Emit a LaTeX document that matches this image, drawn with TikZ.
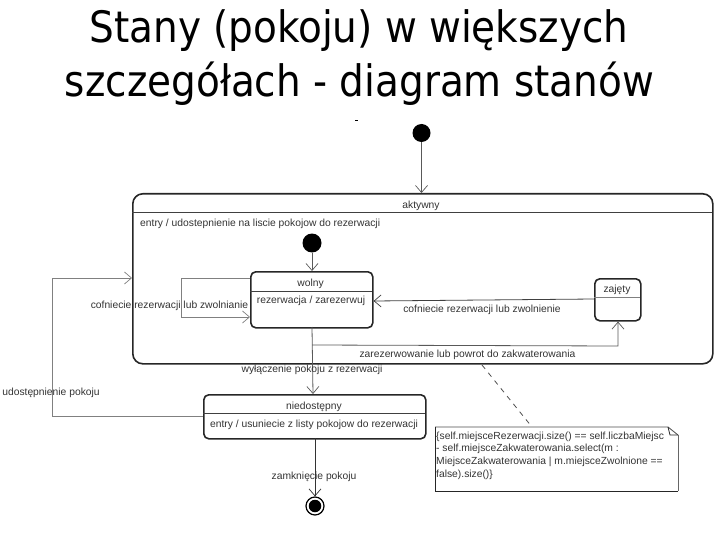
\documentclass[tikz,border=0pt]{standalone}
\usepackage{fontspec}
\setmainfont{Liberation Sans}
\newfontfamily\titlefont{DejaVu Sans Condensed}
\usetikzlibrary{arrows.meta,shapes.misc,calc}
\tikzset{
  statebox/.style={draw=black!85,line width=1.6pt,rounded corners=#1,inner sep=0pt,anchor=north west},
  statebox/.default=5pt,
  divider/.style={draw=black!75,line width=0.8pt},
  lab/.style={font=\fontsize{10.3}{12}\selectfont,text=black!80,inner sep=0pt,yshift=-1.5pt},
  conn/.style={draw=black!65,line width=0.8pt,-{Straight Barb[length=7pt,width=12pt,line width=0.7pt]}},
  pale/.style={conn,draw=black!50},
  dot/.style={circle,fill=black,inner sep=0pt,minimum size=#1},
  titletext/.style={font=\titlefont\fontsize{43.3}{43.3}\selectfont,text=black,inner sep=0pt,anchor=base}
}
\begin{document}
\begin{tikzpicture}[x=1pt,y=-1pt]
\useasboundingbox (0,0) rectangle (720,540);
\node[titletext] (t1) at (359,42.5) {Stany (pokoju) w większych};
\node[titletext] (t2) at (359.5,97) {szczegółach - diagram stanów};
\fill[black] (355,120) rectangle (358,121);

% states
\node[dot=18pt] (init) at (421.5,133) {};
\node[statebox=10pt,minimum width=580pt,minimum height=170pt] (akt) at (132,193) {};
\draw[divider] (132,212) -- (712,212);
\node[lab] (aktl) at (421,204) {aktywny};
\node[lab,anchor=west] (aktentry) at (140,222) {entry / udostepnienie na liscie pokojow do rezerwacji};
\node[dot=19pt] (init2) at (312,243) {};
\node[statebox=5pt,minimum width=122pt,minimum height=56pt] (wol) at (250,271) {};
\draw[divider] (250,291) -- (372,291);
\node[lab] (woll) at (310.5,282) {wolny};
\node[lab] (wola) at (311,299.5) {rezerwacja / zarezerwuj};
\node[statebox=5pt,minimum width=46pt,minimum height=42pt] (zaj) at (594,278) {};
\draw[divider,draw=black!50] (594,297) -- (640,297);
\node[lab] (zajl) at (617,288.5) {zajęty};
\node[statebox=5pt,minimum width=222pt,minimum height=44pt] (nie) at (203,394) {};
\draw[divider] (203,413.5) -- (425,413.5);
\node[lab] (niel) at (314,405.5) {niedostępny};
\node[lab] (niee) at (314,423) {entry / usuniecie z listy pokojow do rezerwacji};
\node[circle,draw=black,line width=1.2pt,fill=white,minimum size=18pt,inner sep=0pt] (fin) at (315,506) {};
\node[dot=12.5pt] (fin2) at (fin) {};

% note
\coordinate (n1) at (435,427);
\coordinate (n2) at (668,427);
\coordinate (n3) at (678,435);
\coordinate (n4) at (678,491);
\coordinate (n5) at (435,491);
\draw[black!70,line width=0.8pt] (n1) -- (n2) -- (n3);
\draw[black!60,line width=0.8pt] (n3) -- (n4);
\draw[black!85,line width=0.8pt] (n4) -- (n5) -- (n1);
\draw[black!85,line width=0.8pt] (n2) -- (670,435) -- (n3);
\node[lab,anchor=north west,align=left,font=\fontsize{10.3}{12.7}\selectfont] (note) at (436,430) {\{self.miejsceRezerwacji.size() == self.liczbaMiejsc\\- self.miejsceZakwaterowania.select(m :\\MiejsceZakwaterowania | m.miejsceZwolnione ==\\false).size()\}};

% connectors
\draw[conn] (init) -- (init |- akt.north);
\draw[conn] (init2) -- (init2 |- wol.north);
\coordinate (a1) at (52,416);
\coordinate (a2) at (52,278);
\draw[pale] (nie.west |- a1) -- (a1) -- (a2) -- (akt.west |- a2);
\coordinate (b1) at (181,278);
\coordinate (b2) at (181,317);
\draw[pale] (wol.west |- b1) -- (b1) -- (b2) -- (wol.west |- b2);
\draw[conn,draw=black!75] (zaj.west |- 0,299) -- (wol.east |- 0,301);
\draw[conn] (312,327) -- (313,394);
\coordinate (c1) at (312,345);
\coordinate (c2) at (618,346);
\draw[conn] (c1) -- (c2) -- (c2 |- zaj.south);
\draw[conn,draw=black!80] (315,438) -- (fin.north);
\draw[draw=black!70,line width=0.8pt,dash pattern=on 5pt off 5pt] (482,365) -- (532,427);

% labels
\node[lab] (l1) at (169.5,304) {cofniecie rezerwacji lub zwolnianie};
\node[lab] (l2) at (482,308) {cofniecie rezerwacji lub zwolnienie};
\node[lab] (l3) at (467.5,353.5) {zarezerwowanie lub powrot do zakwaterowania};
\node[lab] (l4) at (312,368.5) {wyłączenie pokoju z rezerwacji};
\node[lab] (l5) at (51,391) {udostępnienie pokoju};
\node[lab] (l6) at (314,475.5) {zamknięcie pokoju};
\end{tikzpicture}
\end{document}
